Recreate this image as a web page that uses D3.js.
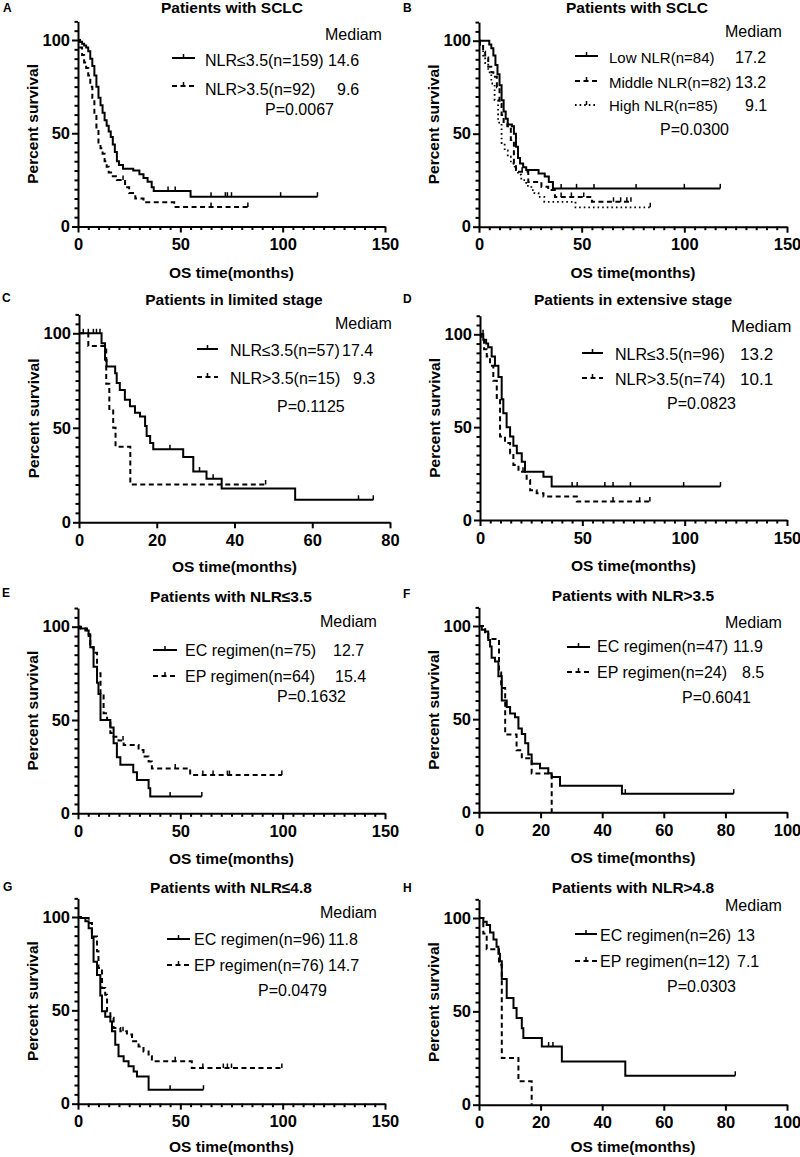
<!DOCTYPE html>
<html><head><meta charset="utf-8">
<script src="https://cdn.jsdelivr.net/npm/d3@7"></script>
<style>
body{margin:0;background:#fff}
svg{display:block}
text{font-family:"Liberation Sans",Arial,Helvetica,sans-serif;fill:#000}
</style>
</head><body>
<svg id="chart" width="800" height="1157"></svg>
<script>
// ---------------- DATA ----------------
const panelLetters = ["A","B","C","D","E","F","G","H"];
const panelTitles = ["Patients with SCLC","Patients with SCLC","Patients in limited stage","Patients in extensive stage",
  "Patients with NLR\u22643.5","Patients with NLR>3.5","Patients with NLR\u22644.8","Patients with NLR>4.8"];
const xMaxes = [150,150,80,150,150,100,150,100];
const xMajorSteps = [50,50,20,50,50,20,50,20];
const xMinorSteps = [5,5,0,5,5,0,5,0];
const yTicks = [0,50,100];
const yAxisTitle = "Percent survival";
const xAxisTitle = "OS time(months)";
const legendHeader = "Mediam";

// Panel A
const aLabels = ["NLR\u22643.5(n=159)","NLR>3.5(n=92)"];
const aMedians = ["14.6","9.6"];
const aP = "P=0.0067";
const aS1 = [[1,99],[2,98],[3,97],[4,96],[5,94],[6,90],[7,86],[8,81],[9,75],[10,69],[11,65],[12,61],[13,57],[14,54],[15,51],[16,48],[17,44],[18,40],[19,35],[20,33],[22,31],[27,30],[30,28],[32,26],[34,24],[36,21],[37,19],[55,16]];
const aS1End = 117; const aS1Cens = [44,47.5,65,72,73,75,99,117];
const aS2 = [[1,96],[2,92],[3,88],[4,85],[5,81],[6,75],[7,69],[8,60],[9,52],[10,45],[11,42],[12,39],[13,35],[14,32],[15,29],[17,27],[19,25],[23,21],[25,18],[28,15],[32,13],[47,10.5]];
const aS2End = 83; const aS2Cens = [22,65,83];

// Panel B
const bLabels = ["Low NLR(n=84)","Middle NLR(n=82)","High NLR(n=85)"];
const bMedians = ["17.2","13.2","9.1"];
const bP = "P=0.0300";
const bS1 = [[5,98],[6,96],[7,92],[8,87],[9,82],[10,76],[11,68],[12,62],[13,58],[14,55],[16,54],[17,50],[18,43],[19,37],[20,34],[21.5,32],[23,30.5],[29,28.6],[32,27],[34,24],[36,20.6]];
const bS1End = 117.5; const bS1Cens = [40,47.5,56,76.5,100,117.5];
const bS2 = [[0.5,98],[2,94],[3,91],[4.5,86],[6,83],[7,80.6],[8.7,75],[10,66],[11,60],[12,55.6],[13.8,54],[15.5,46.6],[17,34],[18,30.5],[19.5,29.6],[24,24],[30.4,21.5],[33.7,19.7],[37,16],[55,13.4]];
const bS2End = 74; const bS2Cens = [21,40,45,51,65.5,69,72,74];
const bS3 = [[0.5,97],[2,92],[3,88],[4.5,83],[6,77],[7.6,68],[9.3,56],[11,45],[12.5,41],[14,37.6],[15.5,34],[17.4,30.5],[19,28],[20.6,25],[23,22],[25.5,19.7],[27,18],[29,16],[31.8,13.4],[47,10.4]];
const bS3End = 83.4; const bS3Cens = [83.4];

// Panel C
const cLabels = ["NLR\u22643.5(n=57)","NLR>3.5(n=15)"];
const cMedians = ["17.4","9.3"];
const cP = "P=0.1125";
const cS1 = [[5.8,94.7],[6.7,86],[7.1,82.5],[9.3,78.9],[9.7,73.7],[10.5,70],[11.8,64.9],[13.1,61.4],[14.4,57.9],[15.7,56],[17,51],[17.4,45.6],[18.3,42],[19.1,38.6],[26.8,34.6],[29.4,26.9],[32.8,23],[36.7,17.9],[55.6,11.9]];
const cS1End = 75.7; const cS1Cens = [1.1,2.4,3.7,4.5,5.4,23.4,31,34.5,71.9,75.7];
const cS2 = [[2.4,93.3],[7,73.3],[7.8,60],[8.8,50],[9.4,40],[13.2,20]];
const cS2End = 48; const cS2Cens = [48];

// Panel D
const dLabels = ["NLR\u22643.5(n=96)","NLR>3.5(n=74)"];
const dMedians = ["13.2","10.1"];
const dP = "P=0.0823";
const dS1 = [[1.6,97],[3,95],[4,93],[5.7,88],[7.3,83],[9,77],[10.6,65],[11.4,57.5],[13,50],[14.7,45],[16.3,40],[18,36],[20.4,31.4],[22,26],[31,23.3],[35,18]];
const dS1End = 117.5; const dS1Cens = [1.5,45,47.5,61,65,73.5,99.5,117.5];
const dS2 = [[0.8,97],[2,92],[3.3,88],[4.9,83],[6.5,75],[8.2,64.6],[9.8,45],[12.2,41.5],[14.7,36],[16.3,29.6],[18.8,26],[22.8,21.5],[24.5,16],[27.7,14.4],[31,12.6],[47.3,9.9]];
const dS2End = 83; const dS2Cens = [21,65,78,83];

// Panel E
const eLabels = ["EC regimen(n=75)","EP regimen(n=64)"];
const eMedians = ["12.7","15.4"];
const eP = "P=0.1632";
const eS1 = [[1,99],[3.6,98],[5.2,95],[6,89],[7.6,78.6],[9.3,70],[10,64],[11,50],[15.8,46],[17.4,37.5],[19,30],[20.7,26],[27,22],[28.8,17.9],[34.5,13.4],[35.3,9]];
const eS1End = 60.5; const eS1Cens = [45,60.5];
const eS2 = [[1.5,99],[4.4,96],[6,89],[7.6,86],[9.3,75],[11,64],[12.5,53.6],[14.2,50],[15.8,43],[17.4,41],[19.8,39],[22.3,36.6],[29.6,33.9],[32,30.4],[34.5,27.7],[36.1,24],[54.8,20.5]];
const eS2End = 99.6; const eS2Cens = [22,47.5,61,66,73,74,99.6];

// Panel F
const fLabels = ["EC regimen(n=47)","EP regimen(n=24)"];
const fMedians = ["11.9","8.5"];
const fP = "P=0.6041";
const fS1 = [[0.9,98],[2,97],[3,92.5],[3.6,89],[4.1,83],[5.2,81],[6.3,73],[7.4,60],[9,56.5],[10.1,53],[11.7,51],[12.8,45],[13.9,42],[15,37],[16,31],[17.1,26],[19.8,23.6],[22.5,21],[23.6,19],[26.3,14.3],[46.4,10]];
const fS1End = 82.7; const fS1Cens = [47.5,82.7];
const fS2 = [[2,95.8],[3,93],[6.5,75],[7.2,66.7],[8.5,41.7],[12.2,33.3],[13.9,29],[17.1,20.8],[23.6,0]];
const fS2End = 23.6; const fS2Cens = [];

// Panel G
const gLabels = ["EC regimen(n=96)","EP regimen(n=76)"];
const gMedians = ["11.8","14.7"];
const gP = "P=0.0479";
const gS1 = [[1.1,99.5],[3.6,97.7],[5.2,94],[6.8,88.8],[7.6,76],[9.3,69],[10.9,58],[11.7,49.5],[13.3,46.6],[15.8,44],[16.6,38.8],[18.2,31.6],[19.8,25.4],[22.3,22.7],[24.7,20],[27.2,17.3],[28.8,14.6],[34.5,7.5]];
const gS1End = 61.3; const gS1Cens = [45,61.3];
const gS2 = [[1.5,99.5],[5.2,96.8],[6.8,89.6],[9.3,81.6],[10,72.7],[11.7,62],[13.3,58.4],[14.2,49.5],[15.8,46],[17.4,40.5],[20.7,38.8],[23.9,37],[26.4,33.4],[29.6,30.7],[32,28],[34.5,25.4],[36.1,22.7],[55.6,19.1]];
const gS2End = 99.6; const gS2Cens = [22,47.5,61,71,73,75,99.6];

// Panel H
const hLabels = ["EC regimen(n=26)","EP regimen(n=12)"];
const hMedians = ["13","7.1"];
const hP = "P=0.0303";
const hS1 = [[1.4,98],[2.5,96.2],[3.6,92.3],[4.7,88.5],[5.7,84.6],[6.3,80.8],[6.8,76.9],[7.4,67.3],[9,57.1],[11.2,51.8],[12.2,46.4],[13.9,41],[14.4,35.7],[20.4,31.2],[26.9,23.2],[47.5,15.5]];
const hS1End = 83.2; const hS1Cens = [22.6,24,83.2];
const hS2 = [[1.4,91.7],[2.5,83.3],[6.5,75],[7.4,25],[12.8,12.5],[17.1,0]];
const hS2End = 17.1; const hS2Cens = [];

// ---------------- ASSEMBLY ----------------
const panelSeries = [
  [[aS1,aS1End,aS1Cens],[aS2,aS2End,aS2Cens]],
  [[bS1,bS1End,bS1Cens],[bS2,bS2End,bS2Cens],[bS3,bS3End,bS3Cens]],
  [[cS1,cS1End,cS1Cens],[cS2,cS2End,cS2Cens]],
  [[dS1,dS1End,dS1Cens],[dS2,dS2End,dS2Cens]],
  [[eS1,eS1End,eS1Cens],[eS2,eS2End,eS2Cens]],
  [[fS1,fS1End,fS1Cens],[fS2,fS2End,fS2Cens]],
  [[gS1,gS1End,gS1Cens],[gS2,gS2End,gS2Cens]],
  [[hS1,hS1End,hS1Cens],[hS2,hS2End,hS2Cens]]
];
const panelLabels = [aLabels,bLabels,cLabels,dLabels,eLabels,fLabels,gLabels,hLabels];
const panelMedians = [aMedians,bMedians,cMedians,dMedians,eMedians,fMedians,gMedians,hMedians];
const panelP = [aP,bP,cP,dP,eP,fP,gP,hP];

// styles and layout (not data)
const dashes = [null, "5,3.5", "1.6,3"];
const layout = [
  {x0:78,x1:385,y0:226.5,y100:40,  title:[232,13], letter:[3,12], xt:51, medFs:16, labFs:16,
   med:[325,40], sx:[172,195], tx:205, rows:[[58,66,328],[86,95,337]], p:[265,115]},
  {x0:479,x1:787,y0:226.7,y100:40.7, title:[637,13], letter:[403,12], xt:51, medFs:16, labFs:15,
   med:[725,37], sx:[575,598], tx:609, rows:[[56,62.5,735],[81,87.5,735],[105,111,745]], p:[660,135]},
  {x0:79,x1:390,y0:522.3,y100:333.3, title:[234,305], letter:[2,301.5], xt:50, medFs:16, labFs:16,
   med:[335,329], sx:[197,218], tx:230, rows:[[349,356,342],[377,383.5,353]], p:[277,412]},
  {x0:480,x1:787,y0:520,y100:334.3, title:[633,305], letter:[403,303], xt:51, medFs:17, labFs:16,
   med:[731,332], sx:[582,603], tx:615, rows:[[353,360,740],[378,385,740]], p:[667,409]},
  {x0:78,x1:385,y0:813.3,y100:626.7, title:[231,601.5], letter:[2,596.5], xt:51, medFs:16, labFs:16,
   med:[320,627], sx:[153,177], tx:185, rows:[[650,656,333],[676,682,335]], p:[277,702]},
  {x0:479,x1:787,y0:812.3,y100:626, title:[633,600.5], letter:[403,598], xt:51, medFs:16, labFs:16,
   med:[725,628], sx:[567,590], tx:597, rows:[[647,652,733],[672,678,742]], p:[682,703]},
  {x0:78,x1:385,y0:1103.7,y100:917, title:[231,893], letter:[3,891], xt:48, medFs:16, labFs:16,
   med:[320,918], sx:[167,190], tx:194, rows:[[939,945,328],[965,970.5,328]], p:[258,996]},
  {x0:479,x1:787,y0:1104.7,y100:918, title:[633,893], letter:[403,892], xt:47, medFs:16, labFs:16,
   med:[725,911], sx:[575,597], tx:600, rows:[[934,941,737],[961,967,737]], p:[667,992]}
];

const svg = d3.select("#chart");
svg.append("rect").attr("width",800).attr("height",1157).attr("fill","#fff");

function survAt(steps, t){
  let s = 100;
  for (const [ti, si] of steps){ if (ti <= t) s = si; else break; }
  return s;
}

layout.forEach((L, i) => {
  const g = svg.append("g");
  const xMax = xMaxes[i];
  const x = d3.scaleLinear().domain([0, xMax]).range([L.x0, L.x1]);
  const yTop = L.y0 - 1.1 * (L.y0 - L.y100);
  const y = d3.scaleLinear().domain([0, 110]).range([L.y0, yTop]);

  // panel letter & title
  g.append("text").attr("x", L.letter[0]).attr("y", L.letter[1])
    .attr("font-size", 12).attr("font-weight", "bold").text(panelLetters[i]);
  g.append("text").attr("x", L.title[0]).attr("y", L.title[1]).attr("text-anchor","middle")
    .attr("font-size", 15.5).attr("font-weight","bold").text(panelTitles[i]);

  // x axis minor
  if (xMinorSteps[i]) {
    const minor = d3.range(0, xMax + 0.001, xMinorSteps[i]).filter(v => v % xMajorSteps[i] !== 0);
    g.append("g").attr("transform", `translate(0,${L.y0})`)
      .call(d3.axisBottom(x).tickValues(minor).tickSize(3.5).tickSizeOuter(0).tickFormat(""))
      .call(a => a.select(".domain").remove())
      .call(a => a.selectAll("line").attr("stroke-width", 2).attr("stroke","#000"));
  }
  // x axis major
  g.append("g").attr("transform", `translate(0,${L.y0})`)
    .call(d3.axisBottom(x).tickValues(d3.range(0, xMax + 0.001, xMajorSteps[i])).tickSize(6).tickSizeOuter(0).tickPadding(6))
    .call(a => a.select(".domain").attr("stroke-width", 2).attr("stroke","#000"))
    .call(a => a.selectAll("line").attr("stroke-width", 2).attr("stroke","#000"))
    .call(a => a.selectAll("text").attr("font-size", 16.5).attr("font-weight","bold")
      .attr("font-family",'"Liberation Sans",Arial,sans-serif').attr("fill","#000"));

  // y axis minor
  const yMinor = d3.range(0, 110.001, 5).filter(v => !yTicks.includes(v));
  g.append("g").attr("transform", `translate(${L.x0},0)`)
    .call(d3.axisLeft(y).tickValues(yMinor).tickSize(3.5).tickSizeOuter(0).tickFormat(""))
    .call(a => a.select(".domain").remove())
    .call(a => a.selectAll("line").attr("stroke-width", 2).attr("stroke","#000"));
  // y axis major
  g.append("g").attr("transform", `translate(${L.x0},0)`)
    .call(d3.axisLeft(y).tickValues(yTicks).tickSize(6).tickSizeOuter(0).tickPadding(2))
    .call(a => a.select(".domain").attr("stroke-width", 2).attr("stroke","#000"))
    .call(a => a.selectAll("line").attr("stroke-width", 2).attr("stroke","#000"))
    .call(a => a.selectAll("text").attr("font-size", 16.5).attr("font-weight","bold")
      .attr("font-family",'"Liberation Sans",Arial,sans-serif').attr("fill","#000"));

  // axis titles
  g.append("text").attr("x", (L.x0 + L.x1) / 2).attr("y", L.y0 + L.xt).attr("text-anchor","middle")
    .attr("font-size", 15.5).attr("font-weight","bold").text(xAxisTitle);
  g.append("text").attr("transform", `translate(${L.x0 - 40},${(L.y0 + yTop) / 2}) rotate(-90)`)
    .attr("text-anchor","middle").attr("font-size", 15.5).attr("font-weight","bold").text(yAxisTitle);

  // curves
  panelSeries[i].forEach(([steps, end, cens], k) => {
    const pts = [[0, 100]];
    let prev = 100;
    steps.forEach(([t, s]) => { pts.push([t, prev]); pts.push([t, s]); prev = s; });
    pts.push([end, prev]);
    const line = d3.line().x(d => x(d[0])).y(d => y(d[1]));
    g.append("path").attr("d", line(pts)).attr("fill","none").attr("stroke","#000")
      .attr("stroke-width", k === 2 ? 1.8 : 2).attr("stroke-dasharray", dashes[k]);
    g.selectAll(null).data(cens).enter().append("line")
      .attr("x1", t => x(t)).attr("x2", t => x(t))
      .attr("y1", t => y(survAt(steps, t))).attr("y2", t => y(survAt(steps, t)) - 4.5)
      .attr("stroke","#000").attr("stroke-width", 1.5);
  });

  // legend
  g.append("text").attr("x", L.med[0]).attr("y", L.med[1]).attr("font-size", L.medFs).text(legendHeader);
  L.rows.forEach(([ly, ty, vx], k) => {
    g.append("line").attr("x1", L.sx[0]).attr("x2", L.sx[1]).attr("y1", ly).attr("y2", ly)
      .attr("stroke","#000").attr("stroke-width", k === 2 ? 1.8 : 2).attr("stroke-dasharray", dashes[k]);
    const mx = (L.sx[0] + L.sx[1]) / 2;
    g.append("line").attr("x1", mx).attr("x2", mx).attr("y1", ly).attr("y2", ly - 4)
      .attr("stroke","#000").attr("stroke-width", 1.5);
    g.append("text").attr("x", L.tx).attr("y", ty).attr("font-size", L.labFs).text(panelLabels[i][k]);
    g.append("text").attr("x", vx).attr("y", ty).attr("font-size", L.medFs).text(panelMedians[i][k]);
  });
  g.append("text").attr("x", L.p[0]).attr("y", L.p[1]).attr("font-size", 16).text(panelP[i]);
});
</script>
</body></html>
